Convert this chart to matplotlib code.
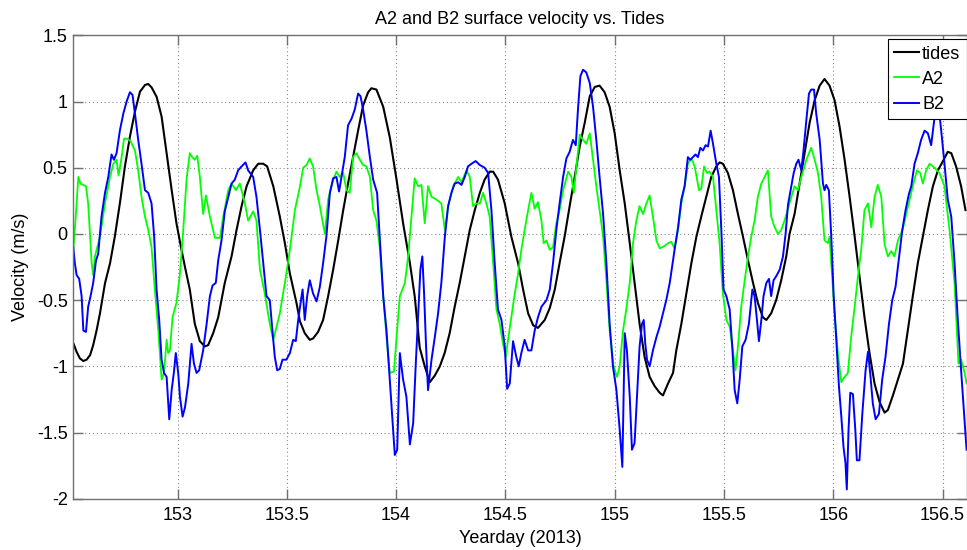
import matplotlib
matplotlib.use("Agg")
import matplotlib.pyplot as plt

plt.rcParams['font.family'] = ['Liberation Sans', 'DejaVu Sans']

# tides (black)
tides_t = [152.523, 152.538, 152.553, 152.569, 152.584, 152.600, 152.614, 152.630, 152.645, 152.668,
           152.691, 152.713, 152.736, 152.759, 152.782, 152.805, 152.828, 152.851, 152.866, 152.881,
           152.904, 152.927, 152.950, 152.973, 152.995, 153.018, 153.034, 153.056, 153.079, 153.102,
           153.125, 153.140, 153.163, 153.186, 153.216, 153.247, 153.270, 153.293, 153.316, 153.346,
           153.369, 153.392, 153.410, 153.438, 153.468, 153.491, 153.514, 153.544, 153.560, 153.582,
           153.605, 153.620, 153.643, 153.666, 153.689, 153.712, 153.735, 153.758, 153.780, 153.803,
           153.826, 153.849, 153.872, 153.887, 153.910, 153.941, 153.971, 154.002, 154.032, 154.063,
           154.085, 154.108, 154.131, 154.154, 154.177, 154.200, 154.222, 154.245, 154.268, 154.291,
           154.314, 154.337, 154.360, 154.383, 154.405, 154.428, 154.444, 154.466, 154.497, 154.527,
           154.558, 154.581, 154.604, 154.627, 154.649, 154.680, 154.703, 154.726, 154.748, 154.771,
           154.794, 154.817, 154.840, 154.863, 154.886, 154.909, 154.931, 154.954, 154.977, 155.000,
           155.023, 155.046, 155.069, 155.091, 155.114, 155.137, 155.160, 155.183, 155.206, 155.221,
           155.244, 155.267, 155.282, 155.305, 155.328, 155.351, 155.374, 155.396, 155.419, 155.442,
           155.465, 155.480, 155.495, 155.518, 155.541, 155.564, 155.587, 155.610, 155.633, 155.655,
           155.678, 155.694, 155.716, 155.739, 155.762, 155.785, 155.800, 155.823, 155.846, 155.869,
           155.892, 155.915, 155.938, 155.960, 155.983, 156.006, 156.029, 156.052, 156.075, 156.098,
           156.120, 156.143, 156.166, 156.189, 156.212, 156.235, 156.250, 156.273, 156.296, 156.319,
           156.341, 156.364, 156.387, 156.410, 156.433, 156.456, 156.479, 156.502, 156.524, 156.540,
           156.562, 156.585, 156.605]
tides_v = [-0.825, -0.89, -0.94, -0.96, -0.95, -0.915, -0.84, -0.726, -0.60, -0.373,
           -0.222, -0.02, 0.23, 0.508, 0.734, 0.923, 1.074, 1.125, 1.132, 1.107,
           1.036, 0.886, 0.609, 0.332, 0.08, -0.12, -0.25, -0.42, -0.68, -0.81,
           -0.85, -0.84, -0.75, -0.63, -0.37, -0.17, 0.03, 0.21, 0.36, 0.48,
           0.53, 0.53, 0.51, 0.36, 0.13, -0.07, -0.30, -0.52, -0.66, -0.75,
           -0.80, -0.79, -0.74, -0.65, -0.47, -0.27, -0.05, 0.18, 0.38, 0.58,
           0.78, 0.97, 1.07, 1.10, 1.09, 0.96, 0.73, 0.41, 0.08, -0.22,
           -0.47, -0.86, -1.0, -1.12, -1.07, -1.0, -0.90, -0.75, -0.55, -0.37,
           -0.17, 0.03, 0.18, 0.31, 0.41, 0.47, 0.47, 0.41, 0.23, -0.02,
           -0.22, -0.42, -0.60, -0.69, -0.71, -0.65, -0.56, -0.42, -0.22, -0.02,
           0.21, 0.43, 0.66, 0.84, 1.04, 1.11, 1.12, 1.07, 0.96, 0.76,
           0.48, 0.23, -0.07, -0.37, -0.68, -0.93, -1.08, -1.15, -1.20, -1.22,
           -1.13, -1.05, -0.88, -0.68, -0.45, -0.22, -0.02, 0.13, 0.28, 0.43,
           0.51, 0.54, 0.53, 0.46, 0.33, 0.15, -0.02, -0.20, -0.37, -0.52,
           -0.63, -0.65, -0.60, -0.50, -0.35, -0.17, 0.0, 0.15, 0.38, 0.61,
           0.84, 1.01, 1.12, 1.17, 1.12, 1.01, 0.81, 0.56, 0.28, -0.02,
           -0.32, -0.63, -0.90, -1.13, -1.27, -1.35, -1.33, -1.22, -1.10, -0.98,
           -0.73, -0.47, -0.22, -0.02, 0.18, 0.36, 0.48, 0.55, 0.62, 0.61,
           0.51, 0.36, 0.18]

# A2 (green)
a2_t = [152.523, 152.535, 152.546, 152.556, 152.569, 152.581, 152.591, 152.607, 152.614, 152.622,
        152.645, 152.668, 152.691, 152.706, 152.721, 152.730, 152.744, 152.755, 152.767, 152.785,
        152.805, 152.820, 152.835, 152.851, 152.866, 152.881, 152.896, 152.912, 152.927, 152.938,
        152.950, 152.957, 152.965, 152.977, 152.995, 153.011, 153.026, 153.041, 153.056, 153.067,
        153.079, 153.090, 153.102, 153.117, 153.130, 153.148, 153.171, 153.194, 153.209, 153.232,
        153.247, 153.267, 153.285, 153.308, 153.323, 153.346, 153.361, 153.377, 153.399, 153.422,
        153.438, 153.453, 153.468, 153.491, 153.514, 153.537, 153.559, 153.575, 153.590, 153.605,
        153.620, 153.636, 153.651, 153.674, 153.689, 153.712, 153.727, 153.742, 153.758, 153.773,
        153.788, 153.803, 153.818, 153.834, 153.849, 153.864, 153.880, 153.895, 153.910, 153.925,
        153.941, 153.956, 153.971, 153.990, 154.002, 154.017, 154.040, 154.055, 154.070, 154.085,
        154.101, 154.116, 154.131, 154.146, 154.162, 154.184, 154.207, 154.223, 154.238, 154.261,
        154.284, 154.299, 154.322, 154.337, 154.352, 154.367, 154.383, 154.398, 154.413, 154.428,
        154.444, 154.459, 154.474, 154.489, 154.502, 154.512, 154.527, 154.543, 154.558, 154.573,
        154.588, 154.604, 154.619, 154.634, 154.649, 154.665, 154.675, 154.688, 154.703, 154.718,
        154.733, 154.748, 154.764, 154.787, 154.802, 154.813, 154.825, 154.840, 154.855, 154.870,
        154.886, 154.901, 154.916, 154.931, 154.947, 154.962, 154.977, 154.995, 155.011, 155.023,
        155.038, 155.053, 155.069, 155.084, 155.099, 155.114, 155.130, 155.145, 155.160, 155.175,
        155.191, 155.206, 155.229, 155.244, 155.259, 155.274, 155.290, 155.305, 155.320, 155.335,
        155.351, 155.366, 155.386, 155.396, 155.409, 155.422, 155.434, 155.450, 155.465, 155.480,
        155.495, 155.511, 155.526, 155.541, 155.553, 155.564, 155.579, 155.595, 155.610, 155.625,
        155.640, 155.655, 155.671, 155.686, 155.701, 155.716, 155.732, 155.747, 155.762, 155.777,
        155.800, 155.823, 155.838, 155.854, 155.877, 155.899, 155.915, 155.930, 155.945, 155.960,
        155.976, 155.983, 155.991, 156.006, 156.021, 156.037, 156.052, 156.067, 156.082, 156.098,
        156.113, 156.128, 156.143, 156.159, 156.174, 156.189, 156.204, 156.220, 156.235, 156.250,
        156.265, 156.280, 156.296, 156.319, 156.341, 156.364, 156.383, 156.398, 156.410, 156.425,
        156.441, 156.463, 156.486, 156.509, 156.532, 156.555, 156.573, 156.585, 156.601, 156.610]
a2_v = [-0.12, 0.15, 0.43, 0.38, 0.37, 0.36, 0.23, -0.22, -0.31, -0.17,
        -0.02, 0.23, 0.43, 0.53, 0.56, 0.44, 0.58, 0.72, 0.72, 0.70,
        0.63, 0.48, 0.28, 0.13, 0.03, -0.10, -0.42, -0.73, -1.10, -1.05,
        -0.80, -0.90, -0.88, -0.63, -0.52, -0.30, 0.03, 0.41, 0.61, 0.58,
        0.56, 0.59, 0.43, 0.15, 0.29, 0.13, -0.03, -0.03, 0.13, 0.33,
        0.38, 0.33, 0.38, 0.23, 0.10, 0.17, 0.10, -0.27, -0.45, -0.68,
        -0.80, -0.70, -0.60, -0.37, -0.12, 0.18, 0.35, 0.50, 0.52, 0.57,
        0.51, 0.33, 0.21, 0.0, 0.26, 0.41, 0.47, 0.43, 0.46, 0.33,
        0.31, 0.58, 0.61, 0.56, 0.52, 0.51, 0.43, 0.18, 0.10, -0.10,
        -0.47, -0.78, -1.05, -1.04, -0.78, -0.47, -0.37, -0.17, 0.13, 0.42,
        0.36, 0.37, 0.08, 0.36, 0.28, 0.26, 0.23, 0.03, 0.21, 0.36,
        0.43, 0.39, 0.48, 0.43, 0.21, 0.23, 0.23, 0.31, 0.23, 0.13,
        -0.22, -0.57, -0.68, -0.83, -0.93, -0.80, -0.63, -0.45, -0.30, -0.12,
        0.03, 0.18, 0.31, 0.19, 0.24, 0.10, -0.07, -0.05, -0.12, -0.10,
        0.08, 0.18, 0.33, 0.47, 0.43, 0.31, 0.51, 0.75, 0.71, 0.68,
        0.76, 0.56, 0.36, 0.18, -0.02, -0.35, -0.73, -1.0, -1.08, -1.0,
        -0.73, -0.57, -0.37, -0.07, 0.10, 0.21, 0.15, 0.23, 0.29, 0.13,
        -0.05, -0.11, -0.09, -0.07, -0.06, -0.11, 0.03, 0.23, 0.36, 0.53,
        0.57, 0.51, 0.33, 0.34, 0.51, 0.46, 0.47, 0.43, 0.18, -0.07,
        -0.45, -0.65, -0.70, -0.88, -1.03, -0.85, -0.55, -0.35, -0.17, -0.02,
        0.10, 0.28, 0.38, 0.43, 0.48, 0.13, 0.05, 0.0, 0.03, 0.10,
        0.23, 0.36, 0.33, 0.43, 0.56, 0.65, 0.56, 0.46, 0.28, -0.05,
        -0.07, -0.02, -0.22, -0.60, -0.90, -1.12, -1.08, -1.05, -0.78, -0.55,
        -0.32, -0.12, 0.18, 0.23, 0.05, 0.28, 0.37, 0.28, -0.08, -0.17,
        -0.13, -0.17, -0.05, 0.04, 0.20, 0.36, 0.48, 0.46, 0.38, 0.48,
        0.53, 0.50, 0.46, 0.36, 0.03, -0.37, -0.98, -0.95, -1.05, -1.13]

# B2 (blue)
b2_t = [152.523, 152.530, 152.538, 152.550, 152.561, 152.569, 152.581, 152.591, 152.602, 152.614,
        152.627, 152.637, 152.652, 152.668, 152.683, 152.698, 152.709, 152.721, 152.736, 152.752,
        152.767, 152.782, 152.794, 152.805, 152.820, 152.835, 152.851, 152.866, 152.881, 152.893,
        152.904, 152.916, 152.927, 152.938, 152.950, 152.962, 152.973, 152.983, 152.992, 153.003,
        153.011, 153.023, 153.034, 153.049, 153.064, 153.075, 153.087, 153.099, 153.117, 153.133,
        153.148, 153.160, 153.175, 153.186, 153.201, 153.216, 153.232, 153.247, 153.262, 153.277,
        153.293, 153.311, 153.323, 153.346, 153.361, 153.377, 153.392, 153.407, 153.422, 153.434,
        153.445, 153.456, 153.468, 153.480, 153.498, 153.514, 153.529, 153.541, 153.552, 153.563,
        153.572, 153.582, 153.593, 153.605, 153.620, 153.636, 153.651, 153.666, 153.681, 153.697,
        153.712, 153.727, 153.739, 153.750, 153.765, 153.780, 153.796, 153.811, 153.826, 153.837,
        153.849, 153.864, 153.880, 153.895, 153.913, 153.925, 153.941, 153.956, 153.971, 153.986,
        153.994, 154.005, 154.017, 154.032, 154.047, 154.063, 154.078, 154.090, 154.101, 154.111,
        154.120, 154.128, 154.137, 154.146, 154.162, 154.177, 154.192, 154.207, 154.223, 154.238,
        154.253, 154.268, 154.284, 154.299, 154.314, 154.329, 154.345, 154.364, 154.383, 154.405,
        154.421, 154.436, 154.451, 154.466, 154.482, 154.497, 154.508, 154.520, 154.535, 154.550,
        154.561, 154.573, 154.588, 154.604, 154.619, 154.634, 154.649, 154.665, 154.688, 154.703,
        154.718, 154.733, 154.748, 154.764, 154.779, 154.794, 154.809, 154.822, 154.832, 154.843,
        154.855, 154.870, 154.886, 154.901, 154.916, 154.931, 154.947, 154.962, 154.977, 154.992,
        155.008, 155.023, 155.035, 155.046, 155.056, 155.069, 155.079, 155.091, 155.102, 155.114,
        155.125, 155.133, 155.140, 155.148, 155.160, 155.175, 155.191, 155.206, 155.221, 155.236,
        155.252, 155.267, 155.274, 155.290, 155.305, 155.320, 155.335, 155.346, 155.358, 155.370,
        155.381, 155.392, 155.404, 155.416, 155.427, 155.439, 155.450, 155.462, 155.477, 155.488,
        155.498, 155.511, 155.526, 155.538, 155.549, 155.561, 155.572, 155.584, 155.599, 155.614,
        155.630, 155.640, 155.651, 155.660, 155.671, 155.681, 155.694, 155.706, 155.716, 155.727,
        155.739, 155.755, 155.770, 155.782, 155.793, 155.808, 155.819, 155.831, 155.841, 155.854,
        155.864, 155.877, 155.889, 155.899, 155.912, 155.922, 155.938, 155.953, 155.960, 155.968,
        155.980, 155.991, 156.002, 156.014, 156.026, 156.037, 156.047, 156.056, 156.062, 156.070,
        156.078, 156.090, 156.101, 156.108, 156.120, 156.133, 156.148, 156.159, 156.169, 156.181,
        156.194, 156.209, 156.224, 156.239, 156.255, 156.270, 156.285, 156.300, 156.316, 156.331,
        156.346, 156.357, 156.372, 156.387, 156.402, 156.418, 156.433, 156.448, 156.456, 156.468,
        156.483, 156.494, 156.509, 156.524, 156.540, 156.555, 156.570, 156.585, 156.601, 156.610]
b2_v = [-0.10, -0.22, -0.31, -0.34, -0.47, -0.73, -0.74, -0.55, -0.47, -0.37,
        -0.20, -0.15, 0.13, 0.31, 0.43, 0.60, 0.56, 0.61, 0.78, 0.91,
        1.0, 1.07, 1.05, 0.91, 0.71, 0.53, 0.33, 0.31, 0.23, -0.02,
        -0.42, -0.65, -0.95, -1.05, -1.08, -1.40, -1.18, -1.05, -0.90, -1.05,
        -1.23, -1.38, -1.31, -1.13, -0.83, -0.98, -1.05, -1.03, -0.88, -0.68,
        -0.47, -0.39, -0.37, -0.20, -0.05, 0.17, 0.28, 0.38, 0.41, 0.48,
        0.51, 0.54, 0.48, 0.43, 0.28, 0.03, -0.22, -0.47, -0.50, -0.73,
        -0.93, -1.03, -1.02, -0.95, -0.95, -0.90, -0.80, -0.81, -0.65, -0.52,
        -0.42, -0.65, -0.47, -0.35, -0.45, -0.51, -0.40, -0.22, -0.02, 0.31,
        0.42, 0.43, 0.32, 0.43, 0.58, 0.82, 0.87, 0.94, 1.06, 1.04,
        0.94, 0.78, 0.58, 0.41, 0.31, -0.02, -0.47, -0.73, -1.10, -1.48,
        -1.67, -1.63, -0.90, -1.10, -1.23, -1.59, -1.43, -0.98, -0.60, -0.27,
        -0.17, -0.45, -0.85, -1.18, -0.95, -0.78, -0.60, -0.37, -0.02, 0.21,
        0.31, 0.38, 0.39, 0.37, 0.43, 0.51, 0.53, 0.55, 0.52, 0.50,
        0.46, 0.18, -0.22, -0.57, -0.65, -0.85, -1.17, -1.13, -0.81, -0.93,
        -1.0, -0.90, -0.80, -0.88, -0.88, -0.73, -0.63, -0.55, -0.50, -0.42,
        -0.22, 0.03, 0.23, 0.43, 0.57, 0.62, 0.71, 0.67, 0.94, 1.19,
        1.24, 1.22, 1.14, 0.96, 0.71, 0.43, 0.15, -0.22, -0.68, -1.0,
        -1.18, -1.48, -1.76, -0.75, -0.88, -1.23, -1.63, -1.58, -1.23, -0.85,
        -0.68, -0.65, -0.83, -0.95, -1.0, -0.88, -0.78, -0.70, -0.60, -0.50,
        -0.37, -0.20, -0.12, 0.05, 0.26, 0.36, 0.58, 0.56, 0.58, 0.60,
        0.58, 0.65, 0.63, 0.67, 0.66, 0.78, 0.68, 0.56, 0.43, 0.03,
        -0.42, -0.47, -0.57, -0.85, -1.18, -1.28, -1.10, -0.85, -0.80, -0.68,
        -0.42, -0.47, -0.65, -0.81, -0.65, -0.47, -0.37, -0.34, -0.47, -0.35,
        -0.32, -0.27, -0.17, 0.0, 0.22, 0.36, 0.46, 0.53, 0.56, 0.48,
        0.63, 0.86, 1.06, 1.09, 1.09, 0.91, 0.71, 0.38, 0.33, 0.37,
        0.33, -0.02, -0.47, -0.80, -1.15, -1.38, -1.61, -1.73, -1.93, -1.48,
        -1.20, -1.21, -1.48, -1.71, -1.71, -1.36, -1.03, -0.89, -1.05, -1.28,
        -1.40, -1.36, -1.10, -0.93, -0.68, -0.50, -0.40, -0.19, 0.03, 0.18,
        0.30, 0.36, 0.53, 0.61, 0.71, 0.78, 0.76, 0.67, 0.78, 0.94,
        0.95, 0.78, 0.53, 0.26, 0.13, -0.22, -0.65, -1.03, -1.41, -1.63]

W, H = 967, 550
fig = plt.figure(figsize=(W / 100, H / 100), dpi=100)
ax = fig.add_axes([73.3 / W, 51.3 / H, (W - 73.3) / W, 463.4 / H])

ax.plot(tides_t, tides_v, color='black', lw=1.5, label='tides')
ax.plot(a2_t, a2_v, color=(0, 1, 0), lw=1.3, label='A2')
ax.plot(b2_t, b2_v, color=(0, 0, 1), lw=1.4, label='B2')

ax.set_xlim(152.523, 156.612)
ax.set_ylim(-2, 1.5)
ax.set_xticks([153, 153.5, 154, 154.5, 155, 155.5, 156, 156.5])
ax.set_xticklabels(['153', '153.5', '154', '154.5', '155', '155.5', '156', '156.5'])
ax.set_yticks([-2, -1.5, -1, -0.5, 0, 0.5, 1, 1.5])
ax.set_yticklabels(['-2', '-1.5', '-1', '-0.5', '0', '0.5', '1', '1.5'])

ax.grid(True, color='#8a8a8a', linestyle=(0, (1, 2.5)), linewidth=0.8)
for s in ax.spines.values():
    s.set_color('#707070')
    s.set_linewidth(1.0)
ax.tick_params(direction='in', length=7, width=1.0, color='#707070',
               top=True, right=True, labelsize=13, labelcolor='black')
ax.tick_params(axis='x', pad=6)
ax.tick_params(axis='y', pad=4)

ax.set_title('A2 and B2 surface velocity vs. Tides', fontsize=13, pad=8)
ax.set_xlabel('Yearday (2013)', fontsize=13, labelpad=4)
ax.set_ylabel('Velocity (m/s)', fontsize=13, labelpad=6)

leg = ax.legend(loc='upper right', bbox_to_anchor=(966.7 / W, 1 - 39.3 / H),
                bbox_transform=fig.transFigure, borderaxespad=0, fontsize=13,
                fancybox=False, framealpha=1, edgecolor='black',
                handlelength=1.4, handletextpad=0.15, labelspacing=0.45,
                borderpad=0.35)
leg.get_frame().set_linewidth(0.8)

fig.savefig('out.png', dpi=100)
